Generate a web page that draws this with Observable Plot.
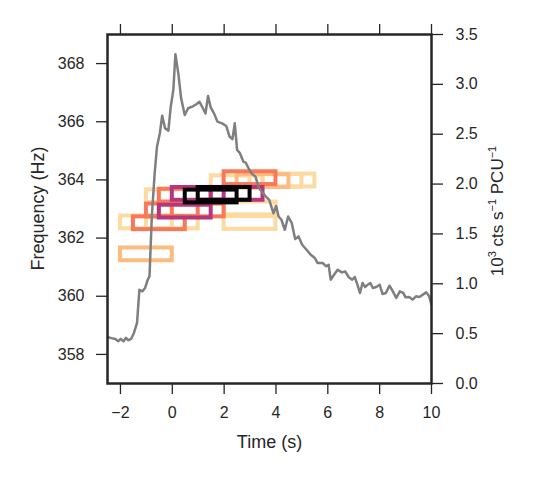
<!DOCTYPE html>
<html>
<head>
<meta charset="utf-8">
<script src="https://cdn.jsdelivr.net/npm/d3@7"></script>
<script src="https://cdn.jsdelivr.net/npm/@observablehq/plot@0.6"></script>
<style>
  html, body { margin: 0; padding: 0; background: #ffffff; }
  #chart { width: 540px; height: 482px; }
</style>
</head>
<body>
<div id="chart"></div>
<script>
// ---- data ----
const xTicks = [-2, 0, 2, 4, 6, 8, 10];
const freqTicks = [358, 360, 362, 364, 366, 368];
const countTicks = [0, 0.5, 1.0, 1.5, 2.0, 2.5, 3.0, 3.5];

// light curve (10^3 cts/s/PCU) vs time (s)
const curveTime = [-2.5,-2.35,-2.2,-2.08,-1.99,-1.88,-1.79,-1.69,-1.59,-1.48,-1.36,-1.27,-1.16,-1.05,-0.95,-0.88,-0.79,-0.68,-0.59,-0.48,-0.39,-0.28,-0.15,-0.06,0.04,0.12,0.24,0.34,0.48,0.61,0.77,0.94,1.05,1.18,1.28,1.38,1.48,1.61,1.74,1.92,2.08,2.21,2.32,2.41,2.5,2.61,2.74,2.83,2.94,3.05,3.21,3.34,3.5,3.61,3.74,3.9,4.01,4.1,4.21,4.34,4.47,4.61,4.74,4.87,5.01,5.18,5.34,5.5,5.61,5.8,5.94,6.03,6.11,6.24,6.38,6.54,6.67,6.8,6.94,7.04,7.14,7.24,7.34,7.44,7.54,7.64,7.74,7.87,8.0,8.11,8.24,8.38,8.51,8.64,8.78,8.91,9.0,9.14,9.27,9.4,9.53,9.67,9.8,9.91,10.0];
const curveRate = [0.467,0.455,0.447,0.424,0.447,0.424,0.457,0.434,0.447,0.507,0.607,0.94,0.924,0.958,1.04,1.074,1.675,2.109,2.376,2.51,2.686,2.56,2.536,2.776,2.943,3.303,3.093,2.86,2.693,2.76,2.776,2.803,2.826,2.76,2.709,2.883,2.769,2.709,2.626,2.609,2.583,2.476,2.45,2.609,2.342,2.31,2.226,2.216,2.159,2.109,2.075,1.96,1.909,1.875,1.842,1.708,1.78,1.675,1.642,1.542,1.675,1.608,1.448,1.475,1.391,1.341,1.291,1.258,1.208,1.208,1.175,1.191,1.041,1.091,1.141,1.114,1.124,1.068,1.041,1.068,0.991,0.908,1.008,0.968,0.991,1.008,0.958,0.968,0.991,0.898,0.908,0.981,0.924,0.858,0.924,0.908,0.864,0.868,0.841,0.874,0.868,0.891,0.914,0.874,0.791];

// oscillation windows: start (s), end (s), frequency (Hz), frequency half-width (Hz), strength level
const winStart = [-2, -1, -1, 2, 2, 1.5, 3, 3.5, -2, 2.5, -1.5, -1, 0, -0.5, 2, -0.5, 0, 1.5, 0.5, 1];
const winEnd   = [ 0,  1,  1, 4, 4, 3.5, 5, 5.5,  0, 4.5,  0.5,  1, 2,  1.5, 4,  1.5, 2, 3.5, 2.5, 3];
const winFreq  = [362.54, 362.54, 363.44, 363.02, 362.52, 363.92, 363.97, 363.98, 361.44, 363.96, 362.51, 362.95, 362.95, 363.46, 364.06, 362.91, 363.52, 363.52, 363.43, 363.52];
const winErr   = [0.22,0.22,0.22,0.22,0.22,0.22,0.22,0.22,0.22,0.22,0.22,0.22,0.22,0.22,0.22,0.22,0.22,0.22,0.22,0.22];
const winLevel = [1, 1, 1, 1, 1, 1, 1, 1, 2, 2, 3, 3, 3, 3, 3, 4, 4, 4, 5, 5];

const levelColors = ["#fddaa2", "#fdbb80", "#f9785a", "#b5367a", "#050308"];

// ---- derived tables ----
const fMin = 357, fMax = 369, cMax = 3.5;
const rateToFreq = c => fMin + c * (fMax - fMin) / cMax;
const curve = curveTime.map((t, i) => ({t, c: curveRate[i]}));
const wins = winStart.map((s, i) => ({s, e: winEnd[i], f: winFreq[i], err: winErr[i], level: winLevel[i]}));

const ink = "#262626";
const minus = v => (v < 0 ? "\u2212" + Math.abs(v) : String(v));

const plot = Plot.plot({
  width: 540,
  height: 482,
  marginLeft: 107,
  marginRight: 109,
  marginTop: 34,
  marginBottom: 99,
  x: {domain: [-2.5, 10]},
  y: {domain: [fMin, fMax]},
  color: {type: "ordinal", domain: [1, 2, 3, 4, 5], range: levelColors},
  style: {fontFamily: "'Liberation Sans', Arial, sans-serif", fontSize: "16px", color: ink, background: "#ffffff", overflow: "visible"},
  marks: [
    Plot.rect(wins, {x1: "s", x2: "e", y1: d => d.f - d.err, y2: d => d.f + d.err, stroke: "level", fill: "none", strokeWidth: 4}),
    Plot.line(curve, {x: "t", y: d => rateToFreq(d.c), stroke: "#7f7f7f", strokeWidth: 2.5, clip: true}),
    Plot.axisX(xTicks, {anchor: "bottom", tickSize: 11, tickPadding: 12, tickFormat: minus, label: null, stroke: ink, strokeWidth: 1.3, fill: ink}),
    Plot.axisX(xTicks, {anchor: "top", tickSize: 11, tickFormat: () => "", label: null, stroke: ink, strokeWidth: 1.3}),
    Plot.axisY(freqTicks, {anchor: "left", tickSize: 11, tickPadding: 12, tickFormat: d => String(d), label: null, stroke: ink, strokeWidth: 1.3, fill: ink}),
    Plot.axisY(countTicks.map(rateToFreq), {anchor: "right", tickSize: 11, tickPadding: 13, tickFormat: d => ((d - fMin) * cMax / (fMax - fMin)).toFixed(1), label: null, stroke: ink, strokeWidth: 1.3, fill: ink}),
    Plot.frame({stroke: ink, strokeWidth: 2.5})
  ]
});

document.getElementById("chart").appendChild(plot);

// axis titles
const svg = d3.select(plot);
const font = "'Liberation Sans', Arial, sans-serif";
svg.append("text")
  .attr("x", 269.5).attr("y", 448)
  .attr("text-anchor", "middle")
  .attr("font-family", font).attr("font-size", 18).attr("fill", ink)
  .text("Time (s)");
svg.append("text")
  .attr("transform", "translate(44,208.5) rotate(-90)")
  .attr("text-anchor", "middle")
  .attr("font-family", font).attr("font-size", 18).attr("fill", ink)
  .text("Frequency (Hz)");
const rl = svg.append("text")
  .attr("transform", "translate(503,211) rotate(-90)")
  .attr("text-anchor", "middle")
  .attr("font-family", font).attr("font-size", 17).attr("fill", ink);
rl.append("tspan").text("10");
rl.append("tspan").attr("font-size", 11).attr("dy", -7).text("3");
rl.append("tspan").attr("dy", 7).text(" cts s");
rl.append("tspan").attr("font-size", 11).attr("dy", -7).text("\u22121");
rl.append("tspan").attr("dy", 7).text(" PCU");
rl.append("tspan").attr("font-size", 11).attr("dy", -7).text("\u22121");
</script>
</body>
</html>
